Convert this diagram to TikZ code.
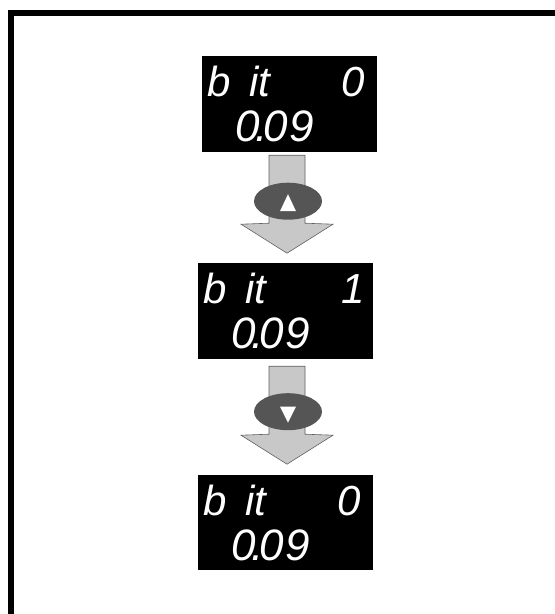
\documentclass[tikz,border=0pt]{standalone}
\usepackage{fontspec}
\usepackage{xcolor}
\usepackage{tikz}
\usetikzlibrary{shapes.geometric}
\newfontfamily\lcdfont{Liberation Sans}
\definecolor{keygray}{RGB}{85,85,85}
\definecolor{arrowgray}{RGB}{200,200,200}
\definecolor{edgegray}{RGB}{96,96,96}
\newcommand{\lcdtop}{\lcdfont\itshape\fontsize{42}{42}\selectfont}
\newcommand{\lcdbot}{\lcdfont\itshape\fontsize{44}{44}\selectfont}

\begin{document}
\begin{tikzpicture}[x=1pt, y=-1pt,
  lcd/.style={fill=black, minimum width=175pt, minimum height=96pt, inner sep=0pt},
  lcdtxt/.style={text=white, inner sep=0pt, anchor=base west},
  blockarr/.style={draw=edgegray, line width=0.6pt, fill=arrowgray, line join=miter},
  keycap/.style={ellipse, fill=keygray, minimum width=68pt, minimum height=37pt, inner sep=0pt},
  keymark/.style={fill=white},
  panelrule/.style={line width=6pt}
]
  \useasboundingbox (0,0) rectangle (555,614);
  % Frame
  \draw[panelrule] (11,614) -- (11,13) -- (555,13);

  % Displays
  \node[lcd] (d1) at (289.5,104) {};
  \node[lcd] (d2) at (285.5,311) {};
  \node[lcd, minimum height=95pt] (d3) at (285.5,522.5) {};

  % Display texts
  \node[lcdtxt] (d1p) at ([shift={(5,41)}]d1.north west) {\lcdtop b\kern19pt it};
  \node[lcdtxt] (d1v) at ([shift={(139,41)}]d1.north west) {\lcdtop 0};
  \node[lcdtxt] (d1n) at ([shift={(33,86)}]d1.north west)
    {\lcdbot 0\kern2pt\makebox[0pt]{.}\kern2pt 0\kern2pt 9};
  \node[lcdtxt] (d2p) at ([shift={(5,41)}]d2.north west) {\lcdtop b\kern19pt it};
  \node[lcdtxt] (d2v) at ([shift={(143,41)}]d2.north west) {\lcdtop 1};
  \node[lcdtxt] (d2n) at ([shift={(33,86)}]d2.north west)
    {\lcdbot 0\kern2pt\makebox[0pt]{.}\kern2pt 0\kern2pt 9};
  \node[lcdtxt] (d3p) at ([shift={(5,41)}]d3.north west) {\lcdtop b\kern19pt it};
  \node[lcdtxt] (d3v) at ([shift={(139,41)}]d3.north west) {\lcdtop 0};
  \node[lcdtxt] (d3n) at ([shift={(33,86)}]d3.north west)
    {\lcdbot 0\kern2pt\makebox[0pt]{.}\kern2pt 0\kern2pt 9};

  % Block arrows with keys
  \coordinate (a1) at ([shift={(-2.5,3)}]d1.south);
  \draw[blockarr] ([xshift=-18pt]a1) -- ++(36,0) -- ++(0,68) -- ++(28,1)
    -- ++(-46,29) -- ++(-46,-29) -- ++(28,-1) -- cycle;
  \node[keycap] (k1) at ([shift={(1,46)}]a1) {};
  \fill[keymark] ([shift={(0,-7)}]k1.center) -- ++(8,17) -- ++(-16,0) -- cycle;

  \coordinate (a2) at ([shift={(1.5,7)}]d2.south);
  \draw[blockarr] ([xshift=-18pt]a2) -- ++(36,0) -- ++(0,68) -- ++(28,1)
    -- ++(-46,29) -- ++(-46,-29) -- ++(28,-1) -- cycle;
  \node[keycap] (k2) at ([shift={(1,45.5)}]a2) {};
  \fill[keymark] ([shift={(0,11)}]k2.center) -- ++(8,-16) -- ++(-16,0) -- cycle;
\end{tikzpicture}
\end{document}
